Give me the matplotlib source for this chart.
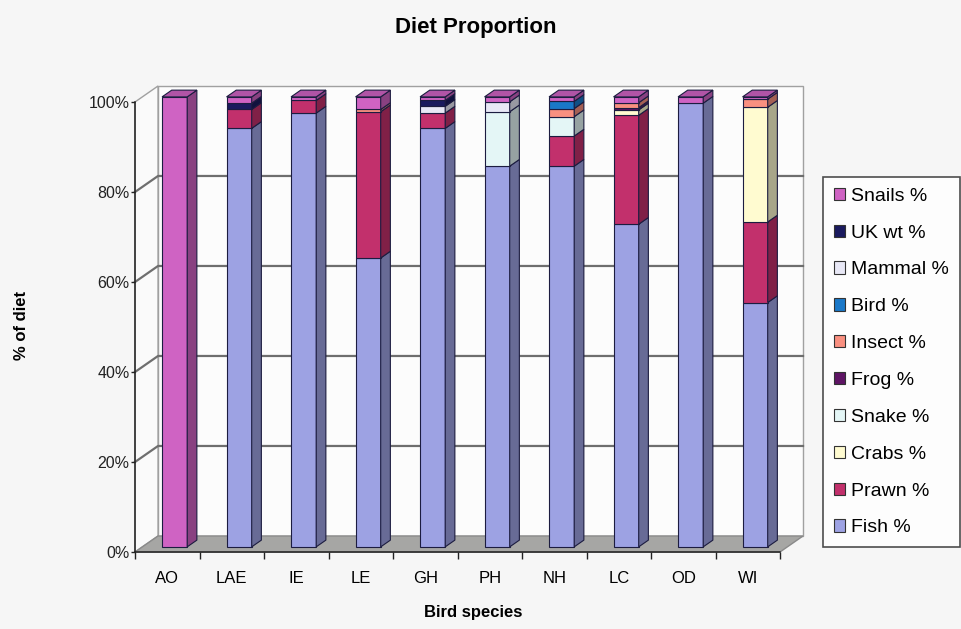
import numpy as np
import matplotlib.pyplot as plt
from matplotlib.patches import Polygon, Patch
from matplotlib.colors import to_rgb

plt.rcParams['font.family'] = ['Liberation Sans', 'DejaVu Sans']

# diet composition (%) per bird species
species = ['AO', 'LAE', 'IE', 'LE', 'GH', 'PH', 'NH', 'LC', 'OD', 'WI']
fish   = [0, 93.0, 96.4, 64.2, 93.0, 84.6, 84.6, 71.7, 98.6, 54.3]
prawn  = [0, 4.2, 2.8, 32.5, 3.4, 0, 6.7, 24.2, 0, 17.9]
crabs  = [0, 0, 0, 0, 0, 0, 0, 1.2, 0, 25.5]
snake  = [0, 0, 0, 0, 0, 12.1, 4.3, 0, 0, 0]
frog   = [0, 0, 0, 0, 0, 0, 0, 0.5, 0, 0]
insect = [0, 0, 0, 0.5, 0, 0, 1.8, 1.1, 0, 1.8]
bird   = [0, 0, 0, 0, 0, 0, 1.6, 0, 0, 0]
mammal = [0, 0, 0, 0, 1.5, 2.2, 0, 0, 0, 0]
uk_wt  = [0, 1.4, 0, 0, 1.3, 0, 0, 0, 0, 0]
snails = [100, 1.4, 0.8, 2.8, 0.8, 1.1, 1.0, 1.3, 1.4, 0.5]

# stacking order, bottom to top
series = [
    ('Fish %', fish, '#9DA2E3'),
    ('Prawn %', prawn, '#C2306C'),
    ('Crabs %', crabs, '#FFFBD0'),
    ('Snake %', snake, '#E4F6F6'),
    ('Frog %', frog, '#5E1464'),
    ('Insect %', insect, '#F99080'),
    ('Bird %', bird, '#1A78C8'),
    ('Mammal %', mammal, '#E8E8F6'),
    ('UK wt %', uk_wt, '#1A1A5E'),
    ('Snails %', snails, '#CF63C3'),
]

W, H = 962, 629
fig = plt.figure(figsize=(W / 100, H / 100), dpi=100, facecolor='#F6F6F6')
ax = fig.add_axes([135 / W, 77 / H, 645 / W, 450 / H])
ax.set_xlim(0, 10)
ax.set_ylim(0, 100)
ax.patch.set_visible(False)

n = len(species)
DX, DY = 0.357, 3.56      # depth vector of the 3d box (data units)
d0, d1 = 0.32, 0.74       # front/back depth of the columns
bw = 0.39
edge = '#1C1C40'


def shade(c, f):
    r, g, b = to_rgb(c)
    return (r * f, g * f, b * f)


def face(pts, fc, ec, lw, z):
    ax.add_patch(Polygon(pts, closed=True, facecolor=fc, edgecolor=ec, lw=lw,
                         zorder=z, clip_on=False))


# walls and floor
face([(DX, DY), (n + DX, DY), (n + DX, 100 + DY), (DX, 100 + DY)], '#FCFCFC', '#A0A0A0', 1, 0)
face([(0, 0), (DX, DY), (DX, 100 + DY), (0, 100)], '#FAFAFA', '#A0A0A0', 1, 0)
for g in [20, 40, 60, 80]:
    ax.plot([0, DX, n + DX], [g, g + DY, g + DY], color='#6E6E6E', lw=1.6, zorder=1,
            clip_on=False)
face([(0, 0), (n, 0), (n + DX, DY), (DX, DY)], '#A6A6A4', '#8A8A8A', 1, 1)

# stacked columns: front face, side face and top cap
for i in range(n):
    x0 = i + 0.5 - bw / 2 + d0 * DX
    xr = x0 + bw
    base = 0.0
    top_col = None
    for name, vals, col in series:
        v = vals[i]
        if v <= 0:
            continue
        ax.bar(x0, v, width=bw, bottom=base + d0 * DY, align='edge', color=col,
               edgecolor=edge, lw=0.8, zorder=3, clip_on=False)
        face([(xr, base + d0 * DY), (xr + (d1 - d0) * DX, base + d1 * DY),
              (xr + (d1 - d0) * DX, base + v + d1 * DY), (xr, base + v + d0 * DY)],
             shade(col, 0.66), edge, 0.8, 3)
        base += v
        top_col = col
    face([(x0, base + d0 * DY), (xr, base + d0 * DY),
          (xr + (d1 - d0) * DX, base + d1 * DY), (x0 + (d1 - d0) * DX, base + d1 * DY)],
         shade(top_col, 0.85), edge, 0.8, 3)

# axes
for s in ['top', 'right']:
    ax.spines[s].set_visible(False)
for s in ['left', 'bottom']:
    ax.spines[s].set_color('#222222')
    ax.spines[s].set_linewidth(1.1)
    ax.spines[s].set_zorder(5)

ax.set_yticks(np.arange(0, 101, 20))
ax.set_yticklabels([f'{v}%' for v in range(0, 101, 20)], fontsize=11.5)
ax.tick_params(axis='y', direction='out', length=3, width=1, pad=1, colors='#222222')

ax.set_xticks(np.arange(0, n + 1))
ax.set_xticklabels([])
ax.set_xticks(np.arange(n) + 0.5, minor=True)
ax.set_xticklabels(species, minor=True, fontsize=12)
ax.tick_params(axis='x', which='major', direction='out', length=5, width=1, colors='#222222')
ax.tick_params(axis='x', which='minor', length=0, pad=14)

fig.text(476 / W, 1 - 28 / H, 'Diet Proportion', ha='center', va='center',
         fontsize=16, fontweight='bold')
fig.text(473 / W, 1 - 613 / H, 'Bird species', ha='center', va='center',
         fontsize=12, fontweight='bold')
fig.text(22 / W, 1 - 325 / H, '% of diet', ha='center', va='center', rotation=90,
         fontsize=12, fontweight='bold')

handles = [Patch(facecolor=c, edgecolor='#333333', lw=0.8) for _, _, c in series[::-1]]
labels = [nm for nm, _, _ in series[::-1]]
leg = fig.legend(handles, labels, loc='upper left', bbox_to_anchor=(823 / W, 1 - 177 / H),
                 frameon=True, fancybox=False, edgecolor='#222222', facecolor='white',
                 fontsize=14, handlelength=0.6, handleheight=0.6, handletextpad=0.3,
                 labelspacing=1.02, borderpad=0.55, borderaxespad=0)
leg.get_frame().set_linewidth(1.2)

fig.savefig('out.png', dpi=100, facecolor=fig.get_facecolor())
